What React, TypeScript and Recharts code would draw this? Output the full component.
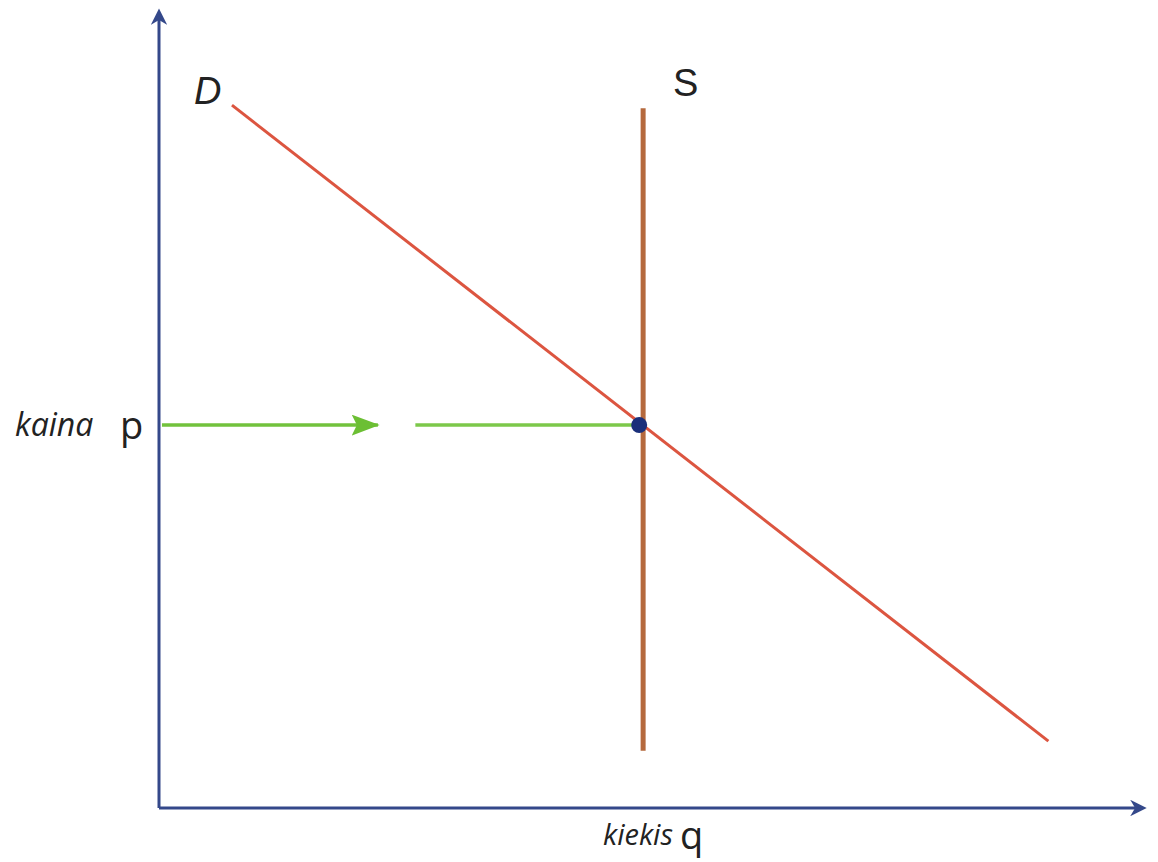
import React from 'react';
import { ComposedChart, Line, XAxis, YAxis, ReferenceDot, ReferenceLine } from 'recharts';

// demand curve D: quantity vs price
const demandQ = [7.4, 90.2];
const demandP = [88.3, 8.4];
// supply curve S: fixed quantity
const supplyQ = [49.1, 49.1];
const supplyP = [87.9, 7.2];
// price level arrows (two green segments)
const priceLevel = 48.1;
const arrowSegA = [0.3, 22.2];
const arrowSegB = [26.0, 48.3];

const demandData = demandQ.map((q, i) => ({ q, p: demandP[i] }));
const supplyData = supplyQ.map((q, i) => ({ q, p: supplyP[i] }));
const segAData = arrowSegA.map(q => ({ q, p: priceLevel }));
const segBData = arrowSegB.map(q => ({ q, p: priceLevel }));

const AXIS = '#34488a';

export default function App() {
  return (
    <div style={{ position: 'relative', width: 1150, height: 854, fontFamily: '"Liberation Sans", Arial, sans-serif' }}>
      <ComposedChart width={1150} height={854} margin={{ top: 4, right: 13, bottom: 54, left: 151 }}>
        <defs>
          <marker id="axArrow" viewBox="0 0 10 10" refX="3" refY="5" markerWidth="5.5" markerHeight="5.5" orient="auto-start-reverse">
            <path d="M0,0 L10,5 L0,10 L3,5 z" fill={AXIS} />
          </marker>
          <marker id="greenArrow" viewBox="0 0 16 12" refX="15" refY="6" markerWidth="8" markerHeight="6" orient="auto">
            <path d="M0,0 L16,6 L0,12 L3,6 z" fill="#6cbf34" />
          </marker>
        </defs>
        <XAxis type="number" dataKey="q" domain={[0, 100]} allowDataOverflow hide />
        <YAxis type="number" dataKey="p" domain={[0, 100]} allowDataOverflow hide />
        <ReferenceLine segment={[{ x: 0, y: 0 }, { x: 99, y: 0 }]} stroke={AXIS} strokeWidth={3}
          markerEnd="url(#axArrow)" ifOverflow="visible" />
        <ReferenceLine segment={[{ x: 0, y: 0 }, { x: 0, y: 99 }]} stroke={AXIS} strokeWidth={3}
          markerEnd="url(#axArrow)" ifOverflow="visible" />
        <Line data={segAData} dataKey="p" stroke="#72c23c" strokeWidth={3.5} dot={false} isAnimationActive={false}
          markerEnd="url(#greenArrow)" />
        <Line data={segBData} dataKey="p" stroke="#7cc84a" strokeWidth={3.5} dot={false} isAnimationActive={false} />
        <ReferenceDot x={48.7} y={priceLevel} r={8} fill="#1a2f7a" stroke="none" />
        <Line data={supplyData} dataKey="p" stroke="#b5693d" strokeWidth={5} dot={false} isAnimationActive={false} />
        <Line data={demandData} dataKey="p" stroke="#dc5540" strokeWidth={3} dot={false} isAnimationActive={false} />
      </ComposedChart>
      <span style={{ position: 'absolute', left: 186, top: 62, fontSize: 38, fontStyle: 'italic', color: '#222' }}>D</span>
      <span style={{ position: 'absolute', left: 665, top: 54, fontSize: 38, color: '#222' }}>S</span>
      <span style={{ position: 'absolute', left: 7, top: 394, fontSize: 32, fontStyle: 'italic', color: '#222', fontFamily: '"Open Sans", sans-serif' }}>kaina</span>
      <span style={{ position: 'absolute', left: 112, top: 390, fontSize: 38, color: '#222', fontFamily: '"Open Sans", sans-serif' }}>p</span>
      <span style={{ position: 'absolute', left: 595, top: 806, fontSize: 29, fontStyle: 'italic', color: '#222', fontFamily: '"Open Sans", sans-serif' }}>kiekis</span>
      <span style={{ position: 'absolute', left: 672, top: 800, fontSize: 38, color: '#222', fontFamily: '"Open Sans", sans-serif' }}>q</span>
    </div>
  );
}
